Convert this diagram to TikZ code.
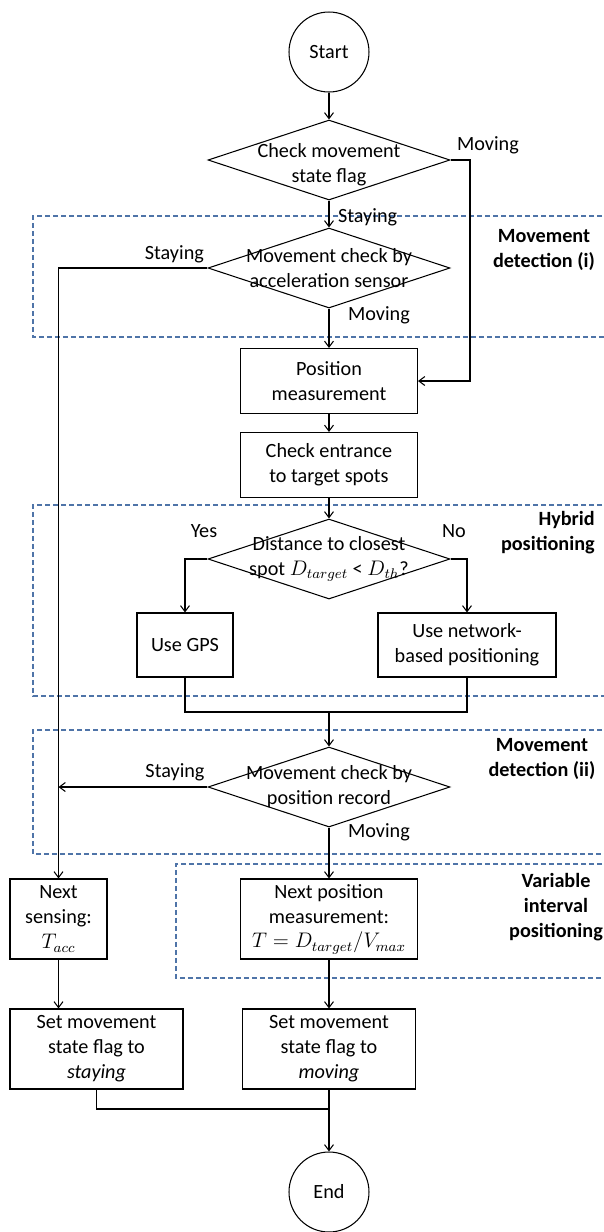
\documentclass[tikz,border=0pt]{standalone}
\usepackage{fontspec}
\setmainfont{Carlito}
\usepackage{xcolor}
\usetikzlibrary{arrows.meta,positioning,shapes.geometric}
\definecolor{regionblue}{RGB}{79,116,168}
\newcommand{\flowfont}{\fontsize{11.5pt}{14.2pt}\selectfont}

\begin{document}
\begin{tikzpicture}[
  x=0.02cm, y=-0.02cm,
  base/.style={draw, line width=0.6pt, font=\flowfont, align=center, inner sep=1pt},
  box/.style={base, rectangle, minimum width=3.54cm, minimum height=1.3cm},
  terminal/.style={base, circle, minimum size=1.6cm},
  decision/.style={draw, line width=0.6pt, diamond, minimum width=4.84cm, minimum height=1.6cm, inner sep=0pt},
  dtext/.style={font=\flowfont, align=center, inner sep=0pt},
  tag/.style={font=\flowfont, inner sep=1pt},
  region/.style={draw=regionblue, line width=0.7pt, dash pattern=on 0.1cm off 0.06cm},
  regiontag/.style={font=\flowfont\bfseries, inner sep=0pt},
  arrow/.style={-{Straight Barb[length=1.2mm, width=1.8mm]}, line width=0.6pt},
  link/.style={line width=0.6pt}
]
\useasboundingbox (0,0) rectangle (603,1232);

% dashed regions
\draw[region] (610,216) -| (33,337) -- (610,337);
\draw[region] (610,505) -| (33,696) -- (610,696);
\draw[region] (610,730) -| (33,854) -- (610,854);
\draw[region] (610,864) -| (176,978) -- (610,978);

\node[regiontag, align=center] (tagdet1) at (544,250) {Movement\\detection (i)};
\node[regiontag, align=right, anchor=east] (taghyb) at (595,533) {Hybrid\\positioning};
\node[regiontag, align=center] (tagdet2) at (542,759) {Movement\\detection (ii)};
\node[regiontag, align=center] (tagvar) at (556,907) {Variable\\interval\\positioning};

% main column
\node[terminal] (start) at (329,52) {Start};
\node[decision, label={[dtext, yshift=-0.1cm]center:Check movement\\state flag}] (d1) at (329,160) {};
\node[decision, label={[dtext]center:Movement check by\\acceleration sensor}] (d2) at (329,268) {};
\node[box] (pos) at (329,381) {Position\\measurement};
\node[box] (spots) at (329,465) {Check entrance\\to target spots};
\node[decision, label={[dtext]center:Distance to closest\\spot $D_{target}$ < $D_{th}$?}] (d3) at (329,559) {};
\node[box, minimum width=1.92cm, minimum height=1.28cm] (gps) at (185,645) {Use GPS};
\node[box, minimum width=3.56cm, minimum height=1.28cm] (net) at (467,645) {Use network-\\based positioning};
\node[decision, label={[dtext]center:Movement check by\\position record}] (d4) at (329,787) {};
\node[box, minimum width=1.94cm, minimum height=1.6cm] (nsense) at (58.5,919) {Next\\sensing:\\$T_{acc}$};
\node[box, minimum height=1.6cm] (npos) at (329,919) {Next position\\measurement:\\$T = D_{target}/V_{max}$};
\node[box, minimum width=3.46cm, minimum height=1.6cm] (sstay) at (96.5,1049) {Set movement\\state flag to\\\textit{staying}};
\node[box, minimum width=3.46cm, minimum height=1.6cm] (smove) at (329,1049) {Set movement\\state flag to\\\textit{moving}};
\node[terminal] (finish) at (329,1192) {End};

% branch labels
\node[tag, anchor=west] (lmove1) at (455,145) {Moving};
\node[tag, anchor=west] (lstay1) at (336,217) {Staying};
\node[tag, anchor=east] (lstay2) at (206,254) {Staying};
\node[tag, anchor=west] (lmove2) at (346,315) {Moving};
\node[tag] (lyes) at (204,531) {Yes};
\node[tag] (lno) at (454,531) {No};
\node[tag] (lstay3) at (175,772) {Staying};
\node[tag, anchor=west] (lmove3) at (346,832) {Moving};

\coordinate (bypass) at (470,160);
\coordinate (join1) at (329,712);
\coordinate (join2) at (329,1109);

\draw[arrow] (start) -- (d1);
\draw[arrow] (d1) -- (d2);
\draw[arrow] (d1.east) -- (bypass) |- (pos.east);
\draw[arrow] (d2.west) -| (nsense.north);
\draw[arrow] (d2) -- (pos);
\draw[arrow] (pos) -- (spots);
\draw[arrow] (spots) -- (d3);
\draw[arrow] (d3.west) -| (gps.north);
\draw[arrow] (d3.east) -| (net.north);
\draw[link] (gps.south) |- (join1) -| (net.south);
\draw[arrow] (join1) -- (d4);
\draw[arrow] (d4.west) -- (d4.west -| nsense.north);
\draw[arrow] (d4) -- (npos);
\draw[arrow] (nsense.south) -- (nsense.south |- sstay.north);
\draw[arrow] (npos) -- (smove);
\draw[link] (sstay.south) |- (join2);
\draw[arrow] (smove) -- (finish);
\end{tikzpicture}
\end{document}
